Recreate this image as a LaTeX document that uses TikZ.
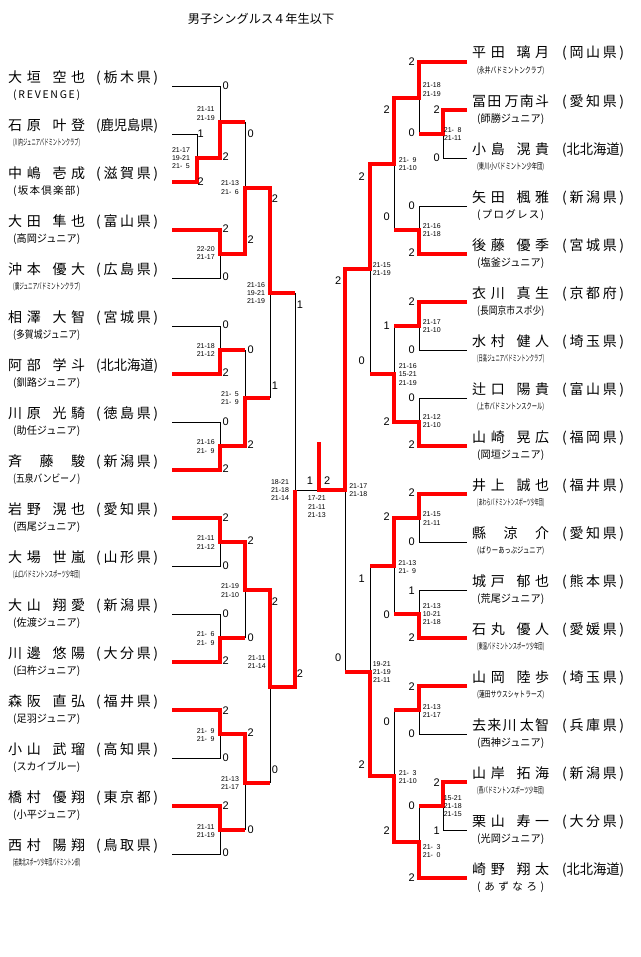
\documentclass[tikz,border=0pt]{standalone}
\usepackage{fontspec}
\usepackage{graphicx}
\setmainfont{Noto Sans CJK JP}
\newfontfamily\numf{Liberation Sans}
% spread the characters of a word over a box
\def\sprd#1#2\relax{#1\ifx\relax#2\relax\else\hfill\sprd#2\relax\fi}
\newcommand\pnm[2]{\makebox[77pt][s]{\sprd#1\relax\hskip0pt plus 2.5fill\relax\sprd#2\relax}}
\newcommand\pnmc[1]{\makebox[77pt][s]{\sprd#1\relax}}
\newcommand\prf[1]{\sbox0{(#1)}\ifdim\wd0>62pt\relax\resizebox{62pt}{\height}{(#1)}\else\makebox[62pt][s]{(\hfill\sprd#1\relax\hfill)}\fi}
\newcommand\afl[1]{\sbox0{#1}\ifdim\wd0>100pt\relax\resizebox{67pt}{0.8\height}{#1}\else\ifdim\wd0>67pt\relax\resizebox{67pt}{\height}{#1}\else\makebox[67pt][s]{\sprd#1\relax}\fi\fi}
\begin{document}
\begin{tikzpicture}[x=1pt,y=-1pt,
  ln/.style={line width=0.9pt},
  win/.style={red,line width=3.8pt},
  nm/.style={anchor=west,inner sep=0pt,font=\fontsize{14}{14}\selectfont},
  af/.style={anchor=west,inner sep=0pt,font=\fontsize{10.5}{10.5}\selectfont},
  sc/.style={inner sep=0pt,align=center,font=\numf\fontsize{7}{8.3}\selectfont},
  pt/.style={inner sep=0pt,font=\numf\fontsize{11}{11}\selectfont}]
\fill[white] (0,0) rectangle (640,957);
\useasboundingbox (0,0) rectangle (640,957);

\node[inner sep=0pt,font=\fontsize{12.2}{12.2}\selectfont] (ttl) at (261,18.5) {男子シングルス４年生以下};

% left side
\node[nm] (l1) at (8,77.5) {\pnm{大垣}{空也}\hspace{11pt}\prf{栃木県}};
\node[af] (l1a) at (13,95) {\afl{(REVENGE)}};
\node[nm] (l2) at (8,125.5) {\pnm{石原}{叶登}\hspace{11pt}\prf{鹿児島県}};
\node[af] (l2a) at (13,143) {\afl{(川内ジュニアバドミントンクラブ)}};
\node[nm] (l3) at (8,173.5) {\pnm{中嶋}{壱成}\hspace{11pt}\prf{滋賀県}};
\node[af] (l3a) at (13,191) {\afl{(坂本倶楽部)}};
\node[nm] (l4) at (8,221.5) {\pnm{大田}{隼也}\hspace{11pt}\prf{富山県}};
\node[af] (l4a) at (13,239) {\afl{(高岡ジュニア)}};
\node[nm] (l5) at (8,269.5) {\pnm{沖本}{優大}\hspace{11pt}\prf{広島県}};
\node[af] (l5a) at (13,287) {\afl{(廣ジュニアバドミントンクラブ)}};
\node[nm] (l6) at (8,317.5) {\pnm{相澤}{大智}\hspace{11pt}\prf{宮城県}};
\node[af] (l6a) at (13,335) {\afl{(多賀城ジュニア)}};
\node[nm] (l7) at (8,365.5) {\pnm{阿部}{学斗}\hspace{11pt}\prf{北北海道}};
\node[af] (l7a) at (13,383) {\afl{(釧路ジュニア)}};
\node[nm] (l8) at (8,413.5) {\pnm{川原}{光騎}\hspace{11pt}\prf{徳島県}};
\node[af] (l8a) at (13,431) {\afl{(助任ジュニア)}};
\node[nm] (l9) at (8,461.5) {\pnmc{斉藤駿}\hspace{11pt}\prf{新潟県}};
\node[af] (l9a) at (13,479) {\afl{(五泉バンビーノ)}};
\node[nm] (l10) at (8,509.5) {\pnm{岩野}{滉也}\hspace{11pt}\prf{愛知県}};
\node[af] (l10a) at (13,527) {\afl{(西尾ジュニア)}};
\node[nm] (l11) at (8,557.5) {\pnm{大場}{世嵐}\hspace{11pt}\prf{山形県}};
\node[af] (l11a) at (13,575) {\afl{(山口バドミントンスポーツ少年団)}};
\node[nm] (l12) at (8,605.5) {\pnm{大山}{翔愛}\hspace{11pt}\prf{新潟県}};
\node[af] (l12a) at (13,623) {\afl{(佐渡ジュニア)}};
\node[nm] (l13) at (8,653.5) {\pnm{川邊}{悠陽}\hspace{11pt}\prf{大分県}};
\node[af] (l13a) at (13,671) {\afl{(臼杵ジュニア)}};
\node[nm] (l14) at (8,701.5) {\pnm{森阪}{直弘}\hspace{11pt}\prf{福井県}};
\node[af] (l14a) at (13,719) {\afl{(足羽ジュニア)}};
\node[nm] (l15) at (8,749.5) {\pnm{小山}{武瑠}\hspace{11pt}\prf{高知県}};
\node[af] (l15a) at (13,767) {\afl{(スカイブルー)}};
\node[nm] (l16) at (8,797.5) {\pnm{橋村}{優翔}\hspace{11pt}\prf{東京都}};
\node[af] (l16a) at (13,815) {\afl{(小平ジュニア)}};
\node[nm] (l17) at (8,845.5) {\pnm{西村}{陽翔}\hspace{11pt}\prf{鳥取県}};
\node[af] (l17a) at (13,863) {\afl{(岩美北スポーツ少年団バドミントン部)}};

% right side
\node[nm] (r1) at (472,53.5) {\pnm{平田}{璃月}\hspace{13pt}\prf{岡山県}};
\node[af] (r1a) at (477,71) {\afl{(永井バドミントンクラブ)}};
\node[nm] (r2) at (472,101.5) {\pnm{冨田}{万南斗}\hspace{13pt}\prf{愛知県}};
\node[af] (r2a) at (477,119) {\afl{(師勝ジュニア)}};
\node[nm] (r3) at (472,149.5) {\pnm{小島}{滉貴}\hspace{13pt}\prf{北北海道}};
\node[af] (r3a) at (477,167) {\afl{(東川小バドミントン少年団)}};
\node[nm] (r4) at (472,197.5) {\pnm{矢田}{楓雅}\hspace{13pt}\prf{新潟県}};
\node[af] (r4a) at (477,215) {\afl{(プログレス)}};
\node[nm] (r5) at (472,245.5) {\pnm{後藤}{優季}\hspace{13pt}\prf{宮城県}};
\node[af] (r5a) at (477,263) {\afl{(塩釜ジュニア)}};
\node[nm] (r6) at (472,293.5) {\pnm{衣川}{真生}\hspace{13pt}\prf{京都府}};
\node[af] (r6a) at (477,311) {\afl{(長岡京市スポ少)}};
\node[nm] (r7) at (472,341.5) {\pnm{水村}{健人}\hspace{13pt}\prf{埼玉県}};
\node[af] (r7a) at (477,359) {\afl{(日高ジュニアバドミントンクラブ)}};
\node[nm] (r8) at (472,389.5) {\pnm{辻口}{陽貴}\hspace{13pt}\prf{富山県}};
\node[af] (r8a) at (477,407) {\afl{(上市バドミントンスクール)}};
\node[nm] (r9) at (472,437.5) {\pnm{山崎}{晃広}\hspace{13pt}\prf{福岡県}};
\node[af] (r9a) at (477,455) {\afl{(岡垣ジュニア)}};
\node[nm] (r10) at (472,485.5) {\pnm{井上}{誠也}\hspace{13pt}\prf{福井県}};
\node[af] (r10a) at (477,503) {\afl{(あわらバドミントンスポーツ少年団)}};
\node[nm] (r11) at (472,533.5) {\pnmc{縣涼介}\hspace{13pt}\prf{愛知県}};
\node[af] (r11a) at (477,551) {\afl{(ばりーあっぷジュニア)}};
\node[nm] (r12) at (472,581.5) {\pnm{城戸}{郁也}\hspace{13pt}\prf{熊本県}};
\node[af] (r12a) at (477,599) {\afl{(荒尾ジュニア)}};
\node[nm] (r13) at (472,629.5) {\pnm{石丸}{優人}\hspace{13pt}\prf{愛媛県}};
\node[af] (r13a) at (477,647) {\afl{(東温バドミントンスポーツ少年団)}};
\node[nm] (r14) at (472,677.5) {\pnm{山岡}{陸歩}\hspace{13pt}\prf{埼玉県}};
\node[af] (r14a) at (477,695) {\afl{(蓮田サウスシャトラーズ)}};
\node[nm] (r15) at (472,725.5) {\pnm{去来川}{太智}\hspace{13pt}\prf{兵庫県}};
\node[af] (r15a) at (477,743) {\afl{(西神ジュニア)}};
\node[nm] (r16) at (472,773.5) {\pnm{山岸}{拓海}\hspace{13pt}\prf{新潟県}};
\node[af] (r16a) at (477,791) {\afl{(燕バドミントンスポーツ少年団)}};
\node[nm] (r17) at (472,821.5) {\pnm{栗山}{寿一}\hspace{13pt}\prf{大分県}};
\node[af] (r17a) at (477,839) {\afl{(光岡ジュニア)}};
\node[nm] (r18) at (472,869.5) {\pnm{崎野}{翔太}\hspace{13pt}\prf{北北海道}};
\node[af] (r18a) at (477,887) {\afl{(あずなろ)}};

% bracket, left
\draw[ln] (172,134)--(197,134)--(197,182)--(172,182) (197,158)--(220,158);
\draw[ln] (172,86)--(220,86)--(220,158) (220,122)--(245,122);
\draw[ln] (172,230)--(220,230)--(220,278)--(172,278) (220,254)--(245,254);
\draw[ln] (245,122)--(245,254) (245,188)--(270,188);
\draw[ln] (172,326)--(220,326)--(220,374)--(172,374) (220,350)--(245,350);
\draw[ln] (172,422)--(220,422)--(220,470)--(172,470) (220,446)--(245,446);
\draw[ln] (245,350)--(245,446) (245,398)--(270,398);
\draw[ln] (270,188)--(270,398) (270,293)--(295,293);
\draw[ln] (172,518)--(220,518)--(220,566)--(172,566) (220,542)--(245,542);
\draw[ln] (172,614)--(220,614)--(220,662)--(172,662) (220,638)--(245,638);
\draw[ln] (245,542)--(245,638) (245,590)--(270,590);
\draw[ln] (172,710)--(220,710)--(220,758)--(172,758) (220,734)--(245,734);
\draw[ln] (172,806)--(220,806)--(220,854)--(172,854) (220,830)--(245,830);
\draw[ln] (245,734)--(245,830) (245,783)--(270,783);
\draw[ln] (270,590)--(270,783) (270,687)--(295,687);
\draw[ln] (295,293)--(295,687) (295,490)--(345,490);

% bracket, right
\draw[ln] (467,110)--(443,110)--(443,158)--(467,158) (443,134)--(419,134);
\draw[ln] (467,62)--(419,62)--(419,134) (419,98)--(394,98);
\draw[ln] (467,206)--(419,206)--(419,254)--(467,254) (419,230)--(394,230);
\draw[ln] (394,98)--(394,230) (394,164)--(370,164);
\draw[ln] (467,302)--(419,302)--(419,350)--(467,350) (419,326)--(394,326);
\draw[ln] (467,398)--(419,398)--(419,446)--(467,446) (419,422)--(394,422);
\draw[ln] (394,326)--(394,422) (394,374)--(370,374);
\draw[ln] (370,164)--(370,374) (370,269)--(345,269);
\draw[ln] (467,494)--(419,494)--(419,542)--(467,542) (419,518)--(394,518);
\draw[ln] (467,590)--(419,590)--(419,638)--(467,638) (419,614)--(394,614);
\draw[ln] (394,518)--(394,614) (394,566)--(370,566);
\draw[ln] (467,686)--(419,686)--(419,734)--(467,734) (419,710)--(394,710);
\draw[ln] (467,782)--(443,782)--(443,830)--(467,830) (443,806)--(419,806);
\draw[ln] (467,878)--(419,878)--(419,806) (419,842)--(394,842);
\draw[ln] (394,710)--(394,842) (394,776)--(370,776);
\draw[ln] (370,566)--(370,776) (370,672)--(345,672);
\draw[ln] (345,269)--(345,672);

% winners
\draw[win] (172,182)--(197,182)--(197,158)--(220,158)--(220,122)--(245,122);
\draw[win] (172,230)--(220,230)--(220,254)--(245,254)--(245,188)--(270,188)--(270,293)--(295,293);
\draw[win] (172,374)--(220,374)--(220,350)--(245,350);
\draw[win] (172,470)--(220,470)--(220,446)--(245,446)--(245,398)--(270,398);
\draw[win] (172,518)--(220,518)--(220,542)--(245,542)--(245,590)--(270,590)--(270,687)--(295,687)--(295,490);
\draw[win] (172,662)--(220,662)--(220,638)--(245,638);
\draw[win] (172,710)--(220,710)--(220,734)--(245,734)--(245,783)--(270,783);
\draw[win] (172,806)--(220,806)--(220,830)--(245,830);
\draw[win] (467,62)--(419,62)--(419,98)--(394,98)--(394,164)--(370,164)--(370,269)--(345,269)--(345,490)--(319,490)--(319,442);
\draw[win] (467,110)--(443,110)--(443,134)--(419,134);
\draw[win] (467,254)--(419,254)--(419,230)--(394,230);
\draw[win] (467,302)--(419,302)--(419,326)--(394,326);
\draw[win] (467,446)--(419,446)--(419,422)--(394,422)--(394,374)--(370,374);
\draw[win] (467,494)--(419,494)--(419,518)--(394,518)--(394,566)--(370,566);
\draw[win] (467,638)--(419,638)--(419,614)--(394,614);
\draw[win] (467,686)--(419,686)--(419,710)--(394,710);
\draw[win] (467,782)--(443,782)--(443,806)--(419,806);
\draw[win] (467,878)--(419,878)--(419,842)--(394,842)--(394,776)--(370,776)--(370,672)--(345,672);

% games won, left
\node[pt] (p1) at (225.7,86) {0};
\node[pt] (p2) at (200.7,134) {1};
\node[pt] (p3) at (225.7,157) {2};
\node[pt] (p4) at (200.7,182) {2};
\node[pt] (p5) at (250.7,134) {0};
\node[pt] (p6) at (275,199) {2};
\node[pt] (p7) at (225.7,229) {2};
\node[pt] (p8) at (250.7,240) {2};
\node[pt] (p9) at (225.7,277) {0};
\node[pt] (p10) at (300,305) {1};
\node[pt] (p11) at (225.7,325) {0};
\node[pt] (p12) at (250.7,350) {0};
\node[pt] (p13) at (225.7,373) {2};
\node[pt] (p14) at (275,386) {1};
\node[pt] (p15) at (225.7,422) {0};
\node[pt] (p16) at (250.7,445) {2};
\node[pt] (p17) at (225.7,469) {2};
\node[pt] (p18) at (225.7,518) {2};
\node[pt] (p19) at (250.7,541) {2};
\node[pt] (p20) at (225.7,566) {0};
\node[pt] (p21) at (275,602) {2};
\node[pt] (p22) at (225.7,614) {0};
\node[pt] (p23) at (250.7,638) {0};
\node[pt] (p24) at (225.7,661) {2};
\node[pt] (p25) at (300,674) {2};
\node[pt] (p26) at (225.7,711) {2};
\node[pt] (p27) at (250.7,733) {2};
\node[pt] (p28) at (225.7,758) {0};
\node[pt] (p29) at (275,770) {0};
\node[pt] (p30) at (225.7,806) {2};
\node[pt] (p31) at (250.7,830) {0};
\node[pt] (p32) at (225.7,853) {0};
\node[pt] (p33) at (310,481) {1};
\node[pt] (p34) at (327.3,481) {2};

% games won, right
\node[pt] (q1) at (411.7,62) {2};
\node[pt] (q2) at (436.7,110) {2};
\node[pt] (q3) at (436.7,158) {0};
\node[pt] (q4) at (411.7,133) {0};
\node[pt] (q5) at (386.7,110) {2};
\node[pt] (q6) at (411.7,206) {0};
\node[pt] (q7) at (411.7,253) {2};
\node[pt] (q8) at (386.7,217) {0};
\node[pt] (q9) at (361.7,177) {2};
\node[pt] (q10) at (338.3,281) {2};
\node[pt] (q11) at (411.7,302) {2};
\node[pt] (q12) at (411.7,350) {0};
\node[pt] (q13) at (386.7,326) {1};
\node[pt] (q14) at (411.7,398) {0};
\node[pt] (q15) at (411.7,445) {2};
\node[pt] (q16) at (386.7,422) {2};
\node[pt] (q17) at (361.7,361) {0};
\node[pt] (q18) at (411.7,493) {2};
\node[pt] (q19) at (411.7,542) {0};
\node[pt] (q20) at (386.7,517) {2};
\node[pt] (q21) at (411.7,591) {1};
\node[pt] (q22) at (411.7,638) {2};
\node[pt] (q23) at (386.7,615) {0};
\node[pt] (q24) at (361.7,579) {1};
\node[pt] (q25) at (338.3,658) {0};
\node[pt] (q26) at (411.7,687) {2};
\node[pt] (q27) at (411.7,734) {0};
\node[pt] (q28) at (386.7,722) {0};
\node[pt] (q29) at (436.7,783) {2};
\node[pt] (q30) at (436.7,831) {1};
\node[pt] (q31) at (411.7,806) {0};
\node[pt] (q32) at (411.7,878) {2};
\node[pt] (q33) at (386.7,831) {2};
\node[pt] (q34) at (361.7,765) {2};

% scores, left
\node[sc] (g1) at (205.7,113.5) {21-11\\21-19};
\node[sc] (g2) at (181,158) {21-17\\19-21\\21-\enspace5};
\node[sc] (g3) at (230,187.5) {21-13\\21-\enspace6};
\node[sc] (g4) at (205.7,253.3) {22-20\\21-17};
\node[sc] (g5) at (256,293) {21-16\\19-21\\21-19};
\node[sc] (g6) at (205.7,350) {21-18\\21-12};
\node[sc] (g7) at (230,398) {21-\enspace5\\21-\enspace9};
\node[sc] (g8) at (205.7,446.5) {21-16\\21-\enspace9};
\node[sc] (g9) at (280,490) {18-21\\21-18\\21-14};
\node[sc] (g10) at (205.7,542.5) {21-11\\21-12};
\node[sc] (g11) at (230,590.5) {21-19\\21-10};
\node[sc] (g12) at (205.7,638.5) {21-\enspace6\\21-\enspace9};
\node[sc] (g13) at (256.7,662) {21-11\\21-14};
\node[sc] (g14) at (205.7,735.3) {21-\enspace9\\21-\enspace9};
\node[sc] (g15) at (230,783.3) {21-13\\21-17};
\node[sc] (g16) at (205.7,831) {21-11\\21-19};
\node[sc] (g17) at (316.7,506.7) {17-21\\21-11\\21-13};

% scores, right
\node[sc] (h1) at (431.7,89.5) {21-18\\21-19};
\node[sc] (h2) at (452.7,134) {21-\enspace8\\21-11};
\node[sc] (h3) at (431.7,230) {21-16\\21-18};
\node[sc] (h4) at (407.7,164) {21-\enspace9\\21-10};
\node[sc] (h5) at (381.7,269) {21-15\\21-19};
\node[sc] (h6) at (431.7,326) {21-17\\21-10};
\node[sc] (h7) at (431.7,421) {21-12\\21-10};
\node[sc] (h8) at (407.7,374.5) {21-16\\15-21\\21-19};
\node[sc] (h9) at (358.3,490) {21-17\\21-18};
\node[sc] (h10) at (431.7,518.5) {21-15\\21-11};
\node[sc] (h11) at (431.7,614) {21-13\\10-21\\21-18};
\node[sc] (h12) at (407.3,567) {21-13\\21-\enspace9};
\node[sc] (h13) at (381.7,672) {19-21\\21-19\\21-11};
\node[sc] (h14) at (431.7,711) {21-13\\21-17};
\node[sc] (h15) at (452.7,806) {15-21\\21-18\\21-15};
\node[sc] (h16) at (431.7,851) {21-\enspace3\\21-\enspace0};
\node[sc] (h17) at (407.7,777) {21-\enspace3\\21-10};
\end{tikzpicture}
\end{document}
